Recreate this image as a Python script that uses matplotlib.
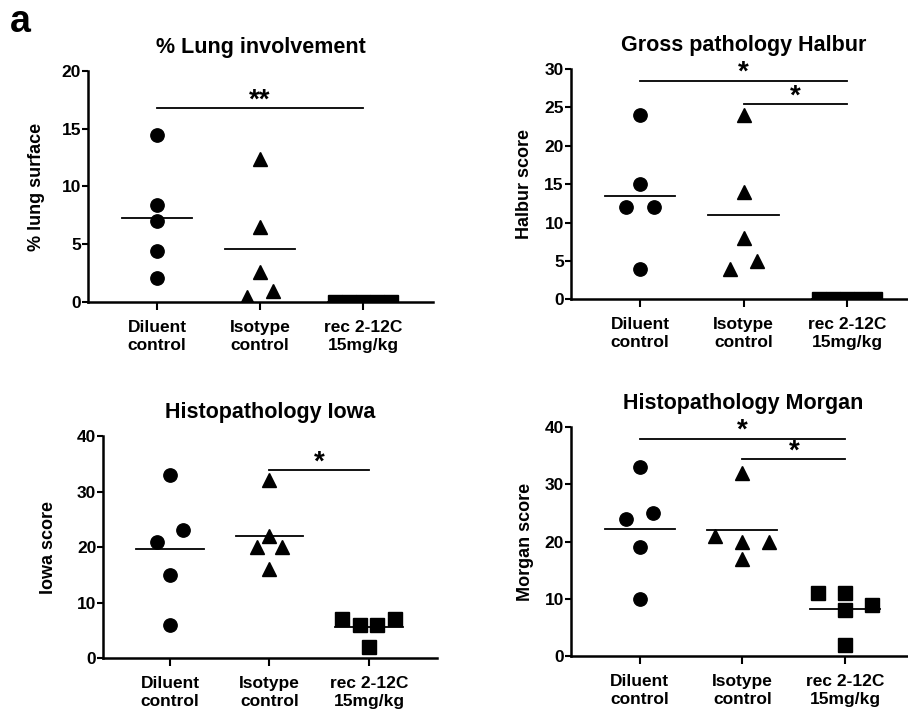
import matplotlib
matplotlib.use("Agg")
import matplotlib.pyplot as plt

plt.rcParams['font.family'] = ['Liberation Sans', 'DejaVu Sans']
plt.rcParams['font.weight'] = 'bold'

# groups shown on every panel
groups = ["Diluent\ncontrol", "Isotype\ncontrol", "rec 2-12C\n15mg/kg"]

# % lung involvement
lung_diluent = [14.5, 8.4, 7.0, 4.4, 2.1]
lung_isotype = [12.4, 6.5, 2.6, 0.4, 0.9]
lung_rec = [0, 0, 0, 0, 0]

# gross pathology Halbur
halbur_diluent = [24, 15, 12, 12, 4]
halbur_isotype = [24, 14, 8, 4, 5]
halbur_rec = [0, 0, 0, 0, 0]

# histopathology Iowa
iowa_diluent = [33, 23, 21, 15, 6]
iowa_isotype = [32, 22, 20, 20, 16]
iowa_rec = [7, 6, 6, 7, 2]

# histopathology Morgan
morgan_diluent = [33, 24, 25, 19, 10]
morgan_isotype = [32, 21, 20, 20, 17]
morgan_rec = [11, 11, 8, 9, 2]

# significance brackets: (from group, to group, height, label)
lung_sig = [(0, 2, 16.8, "**")]
halbur_sig = [(0, 2, 28.5, "*"), (1, 2, 25.4, "*")]
iowa_sig = [(1, 2, 33.8, "*")]
morgan_sig = [(0, 2, 38.0, "*"), (1, 2, 34.4, "*")]

# horizontal spread of overlapping points (layout only)
spread = {
    "lung": ([0, 0, 0, 0, 0], [0, 0, 0, -0.13, 0.13], [-0.27, -0.135, 0, 0.135, 0.27]),
    "halbur": ([0, 0, -0.135, 0.135, 0], [0, 0, 0, -0.135, 0.13], [-0.27, -0.135, 0, 0.135, 0.27]),
    "iowa": ([0, 0.13, -0.13, 0, 0], [0, 0, -0.13, 0.13, 0], [-0.27, -0.09, 0.085, 0.26, 0]),
    "morgan": ([0, -0.135, 0.13, 0, 0], [0, -0.27, 0, 0.26, 0], [-0.27, 0, 0, 0.26, 0]),
}

W, H = 908, 711
fig = plt.figure(figsize=(W / 100, H / 100), dpi=100)


def make_axes(left, right, top, bottom):
    return fig.add_axes([left / W, 1 - bottom / H, (right - left) / W, (bottom - top) / H])


def draw_panel(ax, key, title, ylabel, series, ymax, step, sigs, label_px, ax_left, ax_w):
    markers = ['o', '^', 's']
    sizes = [9.6, 10, 10.5]
    for i, vals in enumerate(series):
        xs = [i + d for d in spread[key][i]]
        ax.plot(xs, vals, linestyle='none', marker=markers[i], ms=sizes[i],
                color='black', clip_on=True, zorder=3)
        m = sum(vals) / len(vals)
        ax.plot([i - 0.34, i + 0.34], [m, m], color='black', lw=1.3, zorder=2)
    for a, b, y, txt in sigs:
        ax.plot([a, b], [y, y], color='black', lw=1.3, clip_on=False)
        ax.annotate(txt, ((a + b) / 2, y), xytext=(0, 0.5), textcoords='offset points',
                    ha='center', va='baseline', fontsize=20, fontweight='bold',
                    annotation_clip=False)
    ax.set_xlim(-0.67, 2.68)
    ax.set_ylim(0, ymax)
    ax.set_yticks(range(0, ymax + 1, step))
    ax.set_xticks([0, 1, 2])
    ax.set_xticklabels(groups, fontsize=12.5, fontweight='bold', linespacing=1.25)
    for t in ax.get_yticklabels():
        t.set_fontsize(12.5)
        t.set_fontweight('bold')
    ax.spines['top'].set_visible(False)
    ax.spines['right'].set_visible(False)
    ax.spines['left'].set_linewidth(1.8)
    ax.spines['bottom'].set_linewidth(1.8)
    ax.tick_params(axis='y', direction='out', length=4.5, width=1.5, pad=0.5)
    ax.tick_params(axis='x', direction='out', length=6, width=1.5, pad=7)
    ax.set_title(title, fontsize=15.5, fontweight='bold', pad=13)
    ax.set_ylabel(ylabel, fontsize=13, fontweight='bold')
    ax.yaxis.set_label_coords((label_px - ax_left) / ax_w, 0.5)


ax1 = make_axes(88, 433, 71.3, 301.7)
draw_panel(ax1, "lung", "% Lung involvement", "% lung surface",
           [lung_diluent, lung_isotype, lung_rec], 20, 5, lung_sig, 45, 88, 345)

ax2 = make_axes(570.7, 917.4, 69, 299.3)
draw_panel(ax2, "halbur", "Gross pathology Halbur", "Halbur score",
           [halbur_diluent, halbur_isotype, halbur_rec], 30, 5, halbur_sig, 533, 570.7, 346.7)

ax3 = make_axes(103.3, 436.6, 436, 658.3)
draw_panel(ax3, "iowa", "Histopathology Iowa", "Iowa score",
           [iowa_diluent, iowa_isotype, iowa_rec], 40, 10, iowa_sig, 57, 103.3, 333.3)

ax4 = make_axes(570.7, 915.2, 427.3, 656)
draw_panel(ax4, "morgan", "Histopathology Morgan", "Morgan score",
           [morgan_diluent, morgan_isotype, morgan_rec], 40, 10, morgan_sig, 534, 570.7, 344.5)

fig.text(10 / W, 1 - 32 / H, "a", fontsize=27, fontweight='bold', ha='left', va='baseline')

fig.savefig("out.png", dpi=100)
